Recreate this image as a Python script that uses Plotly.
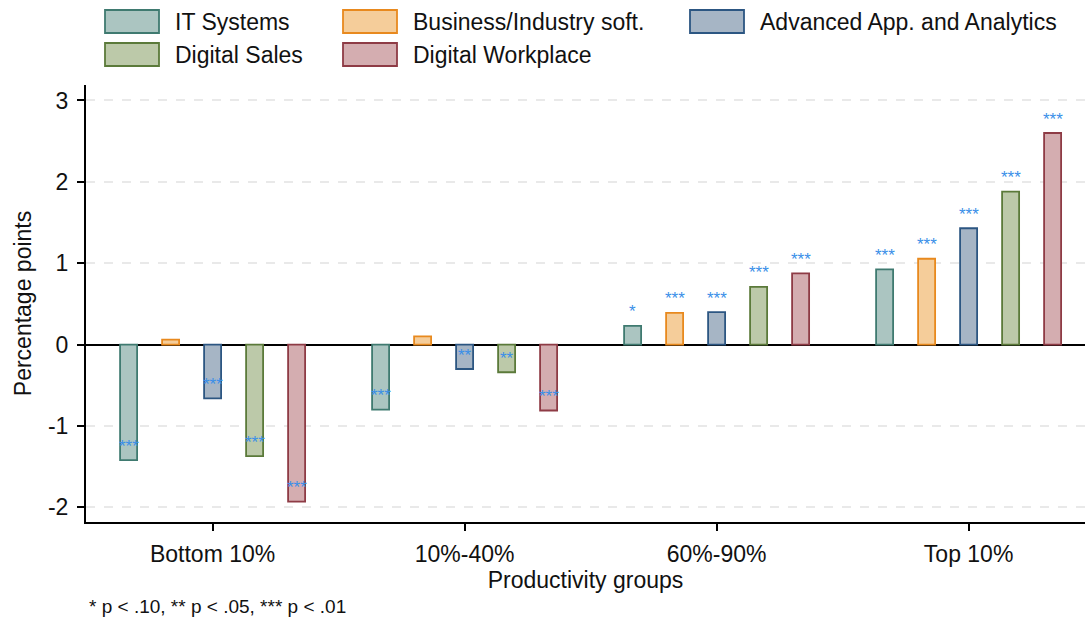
import plotly.graph_objects as go

categories = ["Bottom 10%", "10%-40%", "60%-90%", "Top 10%"]
series_names = ["IT Systems", "Business/Industry soft.", "Advanced App. and Analytics",
                "Digital Sales", "Digital Workplace"]

it_systems = [-1.42, -0.80, 0.23, 0.925]
business_soft = [0.06, 0.10, 0.39, 1.055]
advanced_app = [-0.66, -0.30, 0.40, 1.43]
digital_sales = [-1.37, -0.34, 0.71, 1.88]
digital_workplace = [-1.93, -0.81, 0.875, 2.60]

sig_it = ["***", "***", "*", "***"]
sig_business = ["", "", "***", "***"]
sig_advanced = ["***", "**", "***", "***"]
sig_sales = ["***", "**", "***", "***"]
sig_workplace = ["***", "***", "***", "***"]

y_ticks = [-2, -1, 0, 1, 2, 3]
y_tick_labels = ["-2", "-1", "0", "1", "2", "3"]

values = [it_systems, business_soft, advanced_app, digital_sales, digital_workplace]
sigs = [sig_it, sig_business, sig_advanced, sig_sales, sig_workplace]
fills = ["#abc5c1", "#f5cd9a", "#a6b5c5", "#bcc9a9", "#d4adb0"]
borders = ["#3f7a70", "#e8891e", "#2c5682", "#5b7a3a", "#8e3b45"]

FONT = "Arial, Liberation Sans, sans-serif"
W, H = 1088, 623
L, R, T, B = 86, 3, 85, 101
PW, PH = W - L - R, H - T - B

fig = go.Figure()
for name, vals, fc, lc in zip(series_names, values, fills, borders):
    fig.add_trace(go.Bar(x=categories, y=vals, name=name,
                         marker=dict(color=fc, line=dict(color=lc, width=1.8)),
                         showlegend=False))

# significance stars, placed at the value with a fixed pixel offset
n = len(series_names)
slot = (1 - 1 / 6) / n
annotations = []
for j, (vals, sg) in enumerate(zip(values, sigs)):
    off = (j - (n - 1) / 2) * slot
    for i, (v, s) in enumerate(zip(vals, sg)):
        if not s:
            continue
        annotations.append(dict(x=i + off, y=v, xref="x", yref="y", text=s,
                                showarrow=False, yshift=14, yanchor="middle",
                                font=dict(family=FONT, size=17, color="#3a8fe8")))

def px_x(p):
    return (p - L) / PW

def px_y(p):
    return (H - B - p) / PH

# manual legend (boxes like the original)
legend_pos = [(105, 10), (343, 10), (690, 10), (105, 43), (343, 43)]
shapes = []
for (bx, by), name, fc, lc in zip(legend_pos, series_names, fills, borders):
    shapes.append(dict(type="rect", xref="paper", yref="paper",
                       x0=px_x(bx), x1=px_x(bx + 54), y0=px_y(by + 23), y1=px_y(by),
                       fillcolor=fc, line=dict(color=lc, width=1.8)))
    annotations.append(dict(x=px_x(bx + 68), y=px_y(by + 12), xref="paper", yref="paper",
                            text=name, showarrow=False, xanchor="left", yanchor="middle",
                            font=dict(family=FONT, size=23, color="#111111")))

annotations.append(dict(x=px_x(87), y=px_y(606), xref="paper", yref="paper",
                        text="* p < .10, ** p < .05, *** p < .01", showarrow=False,
                        xanchor="left", yanchor="middle",
                        font=dict(family=FONT, size=19, color="#111111")))

x_lo = -(212.6 - L) / 252
x_hi = x_lo + PW / 252

fig.update_layout(
    width=W, height=H,
    margin=dict(l=L, r=R, t=T, b=B, pad=0),
    paper_bgcolor="white", plot_bgcolor="white",
    barmode="group", bargap=1 / 6, bargroupgap=0.595,
    font=dict(family=FONT, size=23, color="#111111"),
    shapes=shapes, annotations=annotations,
    xaxis=dict(type="category", range=[x_lo, x_hi], showline=True, linecolor="black",
               linewidth=2, ticks="outside", ticklen=7, tickwidth=1.5, tickcolor="black",
               showgrid=False, zeroline=False, ticklabelstandoff=3,
               tickfont=dict(family=FONT, size=23),
               title=dict(text="Productivity groups", standoff=2,
                          font=dict(family=FONT, size=23))),
    yaxis=dict(range=[-2.18, 3.19], tickvals=y_ticks, ticktext=y_tick_labels,
               showline=True, linecolor="black",
               linewidth=2, ticks="outside", ticklen=7, tickwidth=1.5, tickcolor="black",
               showgrid=True, gridcolor="#e9e9e9", gridwidth=2, griddash="dash",
               zeroline=True, zerolinecolor="black", zerolinewidth=2,
               ticklabelstandoff=4, tickfont=dict(family=FONT, size=23),
               title=dict(text="Percentage points", standoff=10,
                          font=dict(family=FONT, size=23))),
)

fig.write_html("out.html")
